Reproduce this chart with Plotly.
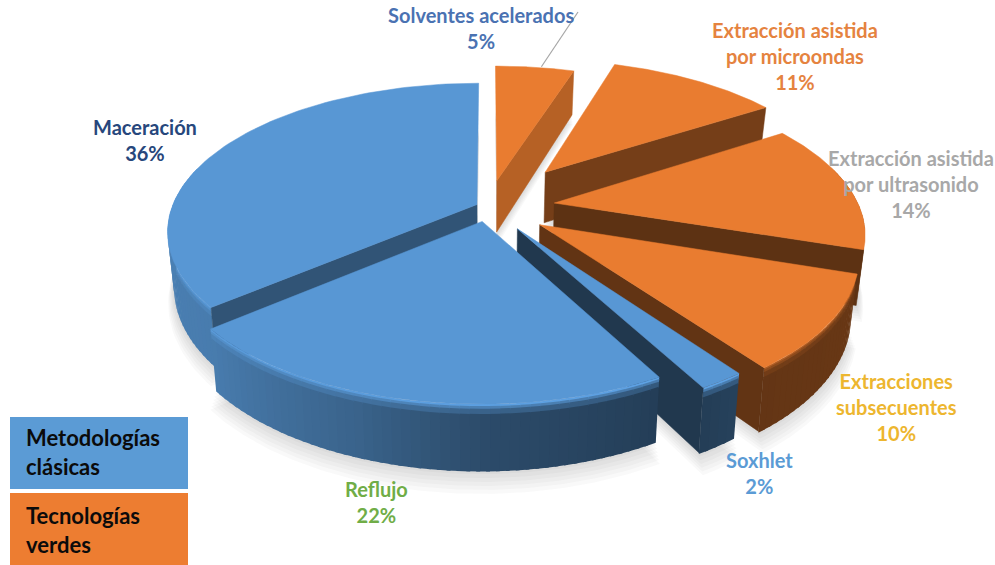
import numpy as np
import plotly.graph_objects as go

# Chart data
categories = ["Solventes acelerados", "Extracción asistida<br>por microondas",
              "Extracción asistida<br>por ultrasonido", "Extracciones<br>subsecuentes",
              "Soxhlet", "Reflujo", "Maceración"]
values = [5, 11, 14, 10, 2, 22, 36]
pulls = [0.19, 0.32, 0.22, 0.205, 0.175, 0.10, 0.04]
groups = ["verde", "verde", "verde", "verde", "clasica", "clasica", "clasica"]
label_colors = ["#4A72B2", "#E5833F", "#A8A8A8", "#EDB62F", "#5B9BD5", "#70AD47", "#27477C"]
label_xy = [(481, 29), (795, 57), (911, 185), (896, 408), (759, 474), (376, 503), (145, 141)]
legend_labels = ["Metodologías<br>clásicas", "Tecnologías<br>verdes"]
legend_colors = ["#5B9BD5", "#ED7D31"]

# Projection of the tilted pie onto the page
CX, CY = 488, 207
RX, RY, RZ = 305, 144, 53
PERSP = 0.18
DEPTH_TAPER = 0.02
FONT = "Lato"
TOP = {"clasica": (88, 151, 212), "verde": (233, 124, 48)}

# Brightness by facing direction (degrees clockwise from the back of the pie)
WALL_A = [60, 108, 144, 151, 180, 200, 230, 270, 300]
WALL_S = [0.45, 0.45, 0.43, 0.41, 0.50, 0.66, 0.82, 0.85, 0.85]
CUT_A = [108, 140, 148, 198, 234, 241]
CUT_S = [0.78, 0.56, 0.50, 0.40, 0.42, 0.37]
BANDS = [0, 0.03, 0.07, 0.15, 1]
BAND_MIX = {"clasica": [-0.12, 0.3, 0.7, 1.0], "verde": [0.45, 0.7, 0.9, 1.0]}


def project(x, y, z=0.0):
    x, y = np.asarray(x, float), np.asarray(y, float)
    s = 1 / (1 + PERSP * y)
    return CX + RX * s * x * (1 - DEPTH_TAPER * z), CY - RY * s * y + RZ * s * z


def rgb(c):
    return "rgb(%d,%d,%d)" % tuple(min(255, int(round(v))) for v in c)


def shade(c, f):
    return tuple(v * f for v in c)


def mix(a, b, t):
    return tuple(p * (1 - t) + q * t for p, q in zip(a, b))


fig = go.Figure()


def poly(xs, ys, fill, line=True):
    fig.add_trace(go.Scatter(
        x=list(xs) + [xs[0]], y=list(ys) + [ys[0]], mode="lines", fill="toself",
        fillcolor=fill, line=dict(color=fill, width=0.5) if line else dict(width=0),
        hoverinfo="skip", showlegend=False))


# Angular extent of every slice, clockwise from twelve o'clock
edges = np.concatenate([[0], np.cumsum(values)]) * 3.6
slices = []
for i in range(len(values)):
    a0, a1 = edges[i], edges[i + 1]
    mid = np.radians((a0 + a1) / 2)
    slices.append(dict(a0=a0, a1=a1, ox=pulls[i] * np.sin(mid), oy=pulls[i] * np.cos(mid),
                       top=TOP[groups[i]], group=groups[i]))


def rim(s, ang, r=1.0):
    t = np.radians(ang)
    return s["ox"] + r * np.sin(t), s["oy"] + r * np.cos(t)


def wedge(s, z, r=1.0):
    angs = np.linspace(s["a0"], s["a1"], 90)
    xw, yw = rim(s, angs, r)
    xs, ys = project(np.r_[s["ox"], xw], np.r_[s["oy"], yw], z)
    return xs, ys


# Soft ground shadow below every slice
for s in slices:
    for k in range(1, 7):
        xs, ys = wedge(s, 1 + 0.045 * k, 1 + 0.004 * k)
        poly(list(xs), list(ys), "rgba(60,60,60,0.03)", line=False)

# Back-to-front drawing order: the slices nearest the viewer come last
for i in [0, 6, 1, 2, 3, 4, 5]:
    s = slices[i]
    # Outer wall, split into strips so its shading can vary around the rim
    n = max(2, int((s["a1"] - s["a0"]) / 1.5))
    steps = np.linspace(s["a0"], s["a1"], n + 1)
    for a, b in zip(steps[:-1], steps[1:]):
        m = (a + b) / 2
        if np.cos(np.radians(m)) > 0.25:
            continue
        wall = shade(s["top"], np.interp(m, WALL_A, WALL_S))
        xa, ya = rim(s, a)
        # each strip runs slightly under the next one so no seam shows
        xb, yb = rim(s, min(b + 0.6, s["a1"]))
        for j, t in enumerate(BAND_MIX[s["group"]]):
            z0, z1 = BANDS[j], BANDS[j + 1]
            pa0, qa0 = project(xa, ya, z0)
            pb0, qb0 = project(xb, yb, z0)
            pb1, qb1 = project(xb, yb, z1 + 0.02)
            pa1, qa1 = project(xa, ya, z1 + 0.02)
            poly([pa0, pb0, pb1, pa1], [qa0, qb0, qb1, qa1], rgb(mix(s["top"], wall, t)), line=False)
    # Flat cut faces that turn towards the viewer
    for ang, normal in ((s["a0"], s["a0"] - 90), (s["a1"], s["a1"] + 90)):
        if np.cos(np.radians(normal)) >= -0.01:
            continue
        xe, ye = rim(s, ang)
        p = [project(s["ox"], s["oy"], 0), project(xe, ye, 0),
             project(xe, ye, 1), project(s["ox"], s["oy"], 1)]
        f = np.interp(normal % 360, CUT_A, CUT_S)
        poly([q[0] for q in p], [q[1] for q in p], rgb(shade(s["top"], f)))
    # Top face
    xs, ys = wedge(s, 0)
    poly(list(xs), list(ys), rgb(s["top"]))

annotations = []
for name, v, col, (lx, ly) in zip(categories, values, label_colors, label_xy):
    annotations.append(dict(x=lx, y=ly - 1, xref="x", yref="y", showarrow=False, align="center",
                            text=f"<b>{name}<br>{v}%</b>",
                            font=dict(family=FONT, size=20, color=col)))

# Leader line from the smallest orange slice to its label
lead_x, lead_y = rim(slices[0], 10.5)
lead_px, lead_py = project(lead_x, lead_y)
fig.add_trace(go.Scatter(x=[float(lead_px), 578], y=[float(lead_py) - 1, 12], mode="lines",
                         line=dict(color="#A6A6A6", width=1.2), hoverinfo="skip", showlegend=False))

# Colour key in the lower left corner
key_boxes = [(417, 489), (493, 565)]
key_text_y = [452, 530]
shapes = []
for lab, col, (y0, y1), ty in zip(legend_labels, legend_colors, key_boxes, key_text_y):
    shapes.append(dict(type="rect", xref="x", yref="y", x0=10, x1=188, y0=y0, y1=y1,
                       fillcolor=col, line=dict(width=0), layer="below"))
    annotations.append(dict(x=24, y=ty, xref="x", yref="y", xanchor="left", showarrow=False,
                            align="left", text=f"<b>{lab}</b>",
                            font=dict(family=FONT, size=22, color="#0B0B0B")))

fig.update_layout(
    width=995, height=565, margin=dict(l=0, r=0, t=0, b=0),
    paper_bgcolor="white", plot_bgcolor="white", showlegend=False,
    xaxis=dict(range=[0, 995], visible=False, fixedrange=True),
    yaxis=dict(range=[565, 0], visible=False, fixedrange=True),
    shapes=shapes, annotations=annotations,
)
fig.write_html("out.html", config={"displayModeBar": False})
